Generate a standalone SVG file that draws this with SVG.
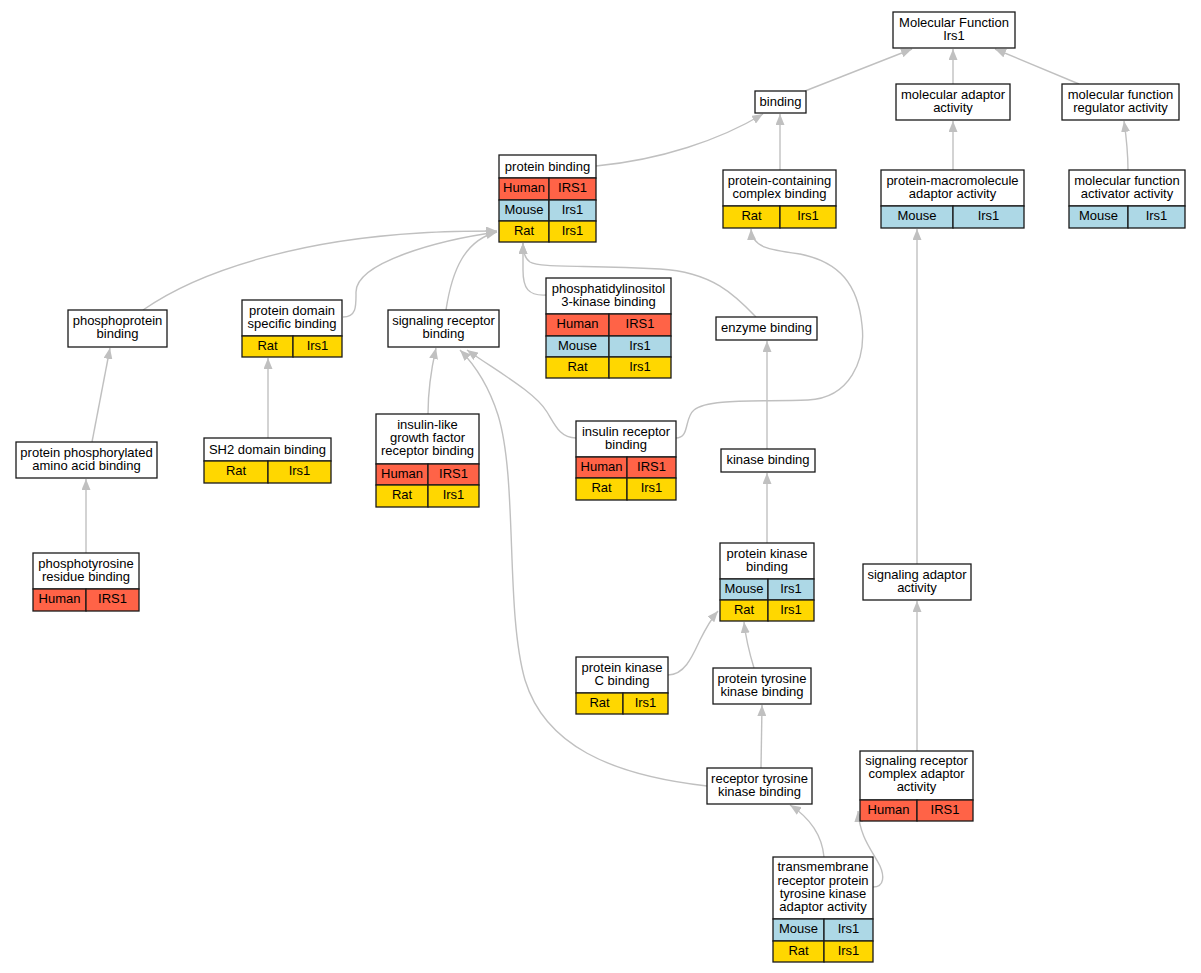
<svg xmlns="http://www.w3.org/2000/svg" width="1201" height="973" viewBox="0 0 1201 973">
<defs>
<marker id="ah" viewBox="0 0 11 9" refX="11" refY="4.5" markerWidth="11" markerHeight="9" markerUnits="userSpaceOnUse" orient="auto">
<path d="M0,0 L11,4.5 L0,9 z" fill="#c0c0c0"/>
</marker>
<style>
rect{stroke:#1a1a1a;stroke-width:1.3}
.h{fill:#ffffff}
.hu{fill:#ff6347}
.mo{fill:#add8e6}
.ra{fill:#ffd700}
text{font-family:"Liberation Sans",Arial,sans-serif;font-size:13px;text-anchor:middle;fill:#000}
#edges path{fill:none;stroke:#c0c0c0;stroke-width:1.4;marker-end:url(#ah)}
</style>
</defs>
<rect x="0" y="0" width="1201" height="973" style="fill:#fff;stroke:none"/>
<g id="edges">
<path d="M805,91 L912,49"/>
<path d="M953,84 L953,49"/>
<path d="M1079,84 L995,49"/>
<path d="M596,166 C660,160 720,140 763,114"/>
<path d="M780,170 L780,114"/>
<path d="M953,170 L953,121"/>
<path d="M1128,170 C1128,150 1126,135 1124,121"/>
<path d="M143,310 C200,270 300,240 420,233 C450,231 475,231 497,231"/>
<path d="M343,317 C357,317 356,305 356,292 C356,262 440,240 497,232"/>
<path d="M446,310 C452,270 465,240 497,232"/>
<path d="M546,295 C528,296 523,288 523,270 L523,243"/>
<path d="M756,317 C735,295 712,272 660,269 C580,265 540,268 530,262 C524,258 523,250 523,243"/>
<path d="M92,442 L110,348"/>
<path d="M86,553 L86,479"/>
<path d="M268,438 L268,358"/>
<path d="M428,414 C428,390 431,370 436,348"/>
<path d="M576,438 C560,438 555,425 547,412 C535,392 495,370 467,350"/>
<path d="M707,786 C610,775 545,745 525,680 C505,610 518,480 498,415 C490,390 478,368 460,350"/>
<path d="M676,438 C690,438 684,418 694,410 C708,398 760,402 808,400 C850,398 866,360 862,325 C858,285 840,262 800,254 C770,250 752,248 751,229"/>
<path d="M767,449 L767,341"/>
<path d="M767,543 L767,473"/>
<path d="M917,564 L917,229"/>
<path d="M668,675 C685,675 693,655 700,640 C705,630 712,618 718,611"/>
<path d="M754,668 C750,655 746,640 744,622"/>
<path d="M761,768 L762,705"/>
<path d="M824,857 C822,835 810,818 790,805"/>
<path d="M917,751 L917,601"/>
<path d="M873,887 C885,887 884,875 880,866 C872,850 860,838 858,811"/>
</g>

<g id="n_mf">
<rect class="h" x="893" y="12" width="122" height="36"/>
<text x="954" y="26.5">Molecular Function</text>
<text x="954" y="39.5">Irs1</text>
</g>
<g id="n_binding">
<rect class="h" x="755" y="91" width="51" height="22"/>
<text x="780.5" y="105.5">binding</text>
</g>
<g id="n_moladaptor">
<rect class="h" x="896" y="84" width="114" height="36"/>
<text x="953" y="98.5">molecular adaptor</text>
<text x="953" y="111.5">activity</text>
</g>
<g id="n_regulator">
<rect class="h" x="1062" y="84" width="117" height="36"/>
<text x="1120.5" y="98.5">molecular function</text>
<text x="1120.5" y="111.5">regulator activity</text>
</g>
<g id="n_proteinbinding">
<rect class="h" x="499" y="155" width="97" height="23"/>
<text x="547.5" y="170.5">protein binding</text>
<rect class="hu" x="499" y="178" width="50" height="22"/>
<rect class="hu" x="549" y="178" width="47" height="22"/>
<text x="524" y="192">Human</text><text x="572.5" y="192">IRS1</text>
<rect class="mo" x="499" y="200" width="50" height="21"/>
<rect class="mo" x="549" y="200" width="47" height="21"/>
<text x="524" y="213.5">Mouse</text><text x="572.5" y="213.5">Irs1</text>
<rect class="ra" x="499" y="221" width="50" height="21"/>
<rect class="ra" x="549" y="221" width="47" height="21"/>
<text x="524" y="234.5">Rat</text><text x="572.5" y="234.5">Irs1</text>
</g>
<g id="n_complexbinding">
<rect class="h" x="723" y="170" width="113" height="36"/>
<text x="779.5" y="184.5">protein-containing</text>
<text x="779.5" y="197.5">complex binding</text>
<rect class="ra" x="723" y="206" width="57" height="22"/>
<rect class="ra" x="780" y="206" width="56" height="22"/>
<text x="751.5" y="220">Rat</text><text x="808" y="220">Irs1</text>
</g>
<g id="n_macromolecule">
<rect class="h" x="881" y="170" width="143" height="36"/>
<text x="952.5" y="184.5">protein-macromolecule</text>
<text x="952.5" y="197.5">adaptor activity</text>
<rect class="mo" x="881" y="206" width="72" height="22"/>
<rect class="mo" x="953" y="206" width="71" height="22"/>
<text x="917" y="220">Mouse</text><text x="988.5" y="220">Irs1</text>
</g>
<g id="n_activator">
<rect class="h" x="1069" y="170" width="116" height="36"/>
<text x="1127" y="184.5">molecular function</text>
<text x="1127" y="197.5">activator activity</text>
<rect class="mo" x="1069" y="206" width="59" height="22"/>
<rect class="mo" x="1128" y="206" width="57" height="22"/>
<text x="1098.5" y="220">Mouse</text><text x="1156.5" y="220">Irs1</text>
</g>
<g id="n_phosphoprotein">
<rect class="h" x="68" y="310" width="99" height="37"/>
<text x="117.5" y="325">phosphoprotein</text>
<text x="117.5" y="338">binding</text>
</g>
<g id="n_domain">
<rect class="h" x="242" y="300" width="100" height="36"/>
<text x="292" y="314.5">protein domain</text>
<text x="292" y="327.5">specific binding</text>
<rect class="ra" x="242" y="336" width="51" height="21"/>
<rect class="ra" x="293" y="336" width="49" height="21"/>
<text x="267.5" y="349.5">Rat</text><text x="317.5" y="349.5">Irs1</text>
</g>
<g id="n_sigrecbinding">
<rect class="h" x="388" y="310" width="111" height="37"/>
<text x="443.5" y="325">signaling receptor</text>
<text x="443.5" y="338">binding</text>
</g>
<g id="n_pi3k">
<rect class="h" x="546" y="278" width="125" height="36"/>
<text x="608.5" y="292.5">phosphatidylinositol</text>
<text x="608.5" y="305.5">3-kinase binding</text>
<rect class="hu" x="546" y="314" width="63" height="22"/>
<rect class="hu" x="609" y="314" width="62" height="22"/>
<text x="577.5" y="328">Human</text><text x="640" y="328">IRS1</text>
<rect class="mo" x="546" y="336" width="63" height="21"/>
<rect class="mo" x="609" y="336" width="62" height="21"/>
<text x="577.5" y="349.5">Mouse</text><text x="640" y="349.5">Irs1</text>
<rect class="ra" x="546" y="357" width="63" height="21"/>
<rect class="ra" x="609" y="357" width="62" height="21"/>
<text x="577.5" y="370.5">Rat</text><text x="640" y="370.5">Irs1</text>
</g>
<g id="n_enzyme">
<rect class="h" x="716" y="317" width="101" height="23"/>
<text x="766.5" y="331.5">enzyme binding</text>
</g>
<g id="n_phosphoaa">
<rect class="h" x="16" y="442" width="141" height="36"/>
<text x="86.5" y="456.5">protein phosphorylated</text>
<text x="86.5" y="469.5">amino acid binding</text>
</g>
<g id="n_sh2">
<rect class="h" x="204" y="438" width="127" height="23"/>
<text x="267.5" y="453.5">SH2 domain binding</text>
<rect class="ra" x="204" y="461" width="64" height="22"/>
<rect class="ra" x="268" y="461" width="63" height="22"/>
<text x="236" y="475">Rat</text><text x="299.5" y="475">Irs1</text>
</g>
<g id="n_igf">
<rect class="h" x="376" y="414" width="103" height="50"/>
<text x="427.5" y="429">insulin-like</text>
<text x="427.5" y="442">growth factor</text>
<text x="427.5" y="455">receptor binding</text>
<rect class="hu" x="376" y="464" width="52" height="21"/>
<rect class="hu" x="428" y="464" width="51" height="21"/>
<text x="402" y="477.5">Human</text><text x="453.5" y="477.5">IRS1</text>
<rect class="ra" x="376" y="485" width="52" height="22"/>
<rect class="ra" x="428" y="485" width="51" height="22"/>
<text x="402" y="499">Rat</text><text x="453.5" y="499">Irs1</text>
</g>
<g id="n_insrec">
<rect class="h" x="576" y="421" width="100" height="36"/>
<text x="626" y="435.5">insulin receptor</text>
<text x="626" y="448.5">binding</text>
<rect class="hu" x="576" y="457" width="51" height="21"/>
<rect class="hu" x="627" y="457" width="49" height="21"/>
<text x="601.5" y="470.5">Human</text><text x="651.5" y="470.5">IRS1</text>
<rect class="ra" x="576" y="478" width="51" height="22"/>
<rect class="ra" x="627" y="478" width="49" height="22"/>
<text x="601.5" y="492">Rat</text><text x="651.5" y="492">Irs1</text>
</g>
<g id="n_kinase">
<rect class="h" x="721" y="449" width="94" height="23"/>
<text x="768" y="464">kinase binding</text>
</g>
<g id="n_ptyr">
<rect class="h" x="33" y="553" width="106" height="36"/>
<text x="86" y="567.5">phosphotyrosine</text>
<text x="86" y="580.5">residue binding</text>
<rect class="hu" x="33" y="589" width="53" height="22"/>
<rect class="hu" x="86" y="589" width="53" height="22"/>
<text x="59.5" y="603">Human</text><text x="112.5" y="603">IRS1</text>
</g>
<g id="n_pkb">
<rect class="h" x="720" y="543" width="94" height="36"/>
<text x="767" y="557.5">protein kinase</text>
<text x="767" y="570.5">binding</text>
<rect class="mo" x="720" y="579" width="48" height="21"/>
<rect class="mo" x="768" y="579" width="46" height="21"/>
<text x="744" y="592.5">Mouse</text><text x="791" y="592.5">Irs1</text>
<rect class="ra" x="720" y="600" width="48" height="21"/>
<rect class="ra" x="768" y="600" width="46" height="21"/>
<text x="744" y="613.5">Rat</text><text x="791" y="613.5">Irs1</text>
</g>
<g id="n_sigadaptor">
<rect class="h" x="863" y="564" width="108" height="36"/>
<text x="917" y="578.5">signaling adaptor</text>
<text x="917" y="591.5">activity</text>
</g>
<g id="n_pkc">
<rect class="h" x="576" y="657" width="92" height="36"/>
<text x="622" y="671.5">protein kinase</text>
<text x="622" y="684.5">C binding</text>
<rect class="ra" x="576" y="693" width="47" height="21"/>
<rect class="ra" x="623" y="693" width="45" height="21"/>
<text x="599.5" y="706.5">Rat</text><text x="645.5" y="706.5">Irs1</text>
</g>
<g id="n_ptk">
<rect class="h" x="713" y="668" width="98" height="36"/>
<text x="762" y="682.5">protein tyrosine</text>
<text x="762" y="695.5">kinase binding</text>
</g>
<g id="n_rtk">
<rect class="h" x="707" y="768" width="105" height="36"/>
<text x="759.5" y="782.5">receptor tyrosine</text>
<text x="759.5" y="795.5">kinase binding</text>
</g>
<g id="n_srca">
<rect class="h" x="860" y="751" width="113" height="49"/>
<text x="916.5" y="765">signaling receptor</text>
<text x="916.5" y="778">complex adaptor</text>
<text x="916.5" y="791">activity</text>
<rect class="hu" x="860" y="800" width="57" height="21"/>
<rect class="hu" x="917" y="800" width="56" height="21"/>
<text x="888.5" y="813.5">Human</text><text x="945" y="813.5">IRS1</text>
</g>
<g id="n_transmembrane">
<rect class="h" x="773" y="857" width="100" height="62"/>
<text x="823" y="871">transmembrane</text>
<text x="823" y="884.5">receptor protein</text>
<text x="823" y="898">tyrosine kinase</text>
<text x="823" y="911">adaptor activity</text>
<rect class="mo" x="773" y="919" width="51" height="22"/>
<rect class="mo" x="824" y="919" width="49" height="22"/>
<text x="798.5" y="933">Mouse</text><text x="848.5" y="933">Irs1</text>
<rect class="ra" x="773" y="941" width="51" height="21"/>
<rect class="ra" x="824" y="941" width="49" height="21"/>
<text x="798.5" y="955">Rat</text><text x="848.5" y="955">Irs1</text>
</g>
</svg>
